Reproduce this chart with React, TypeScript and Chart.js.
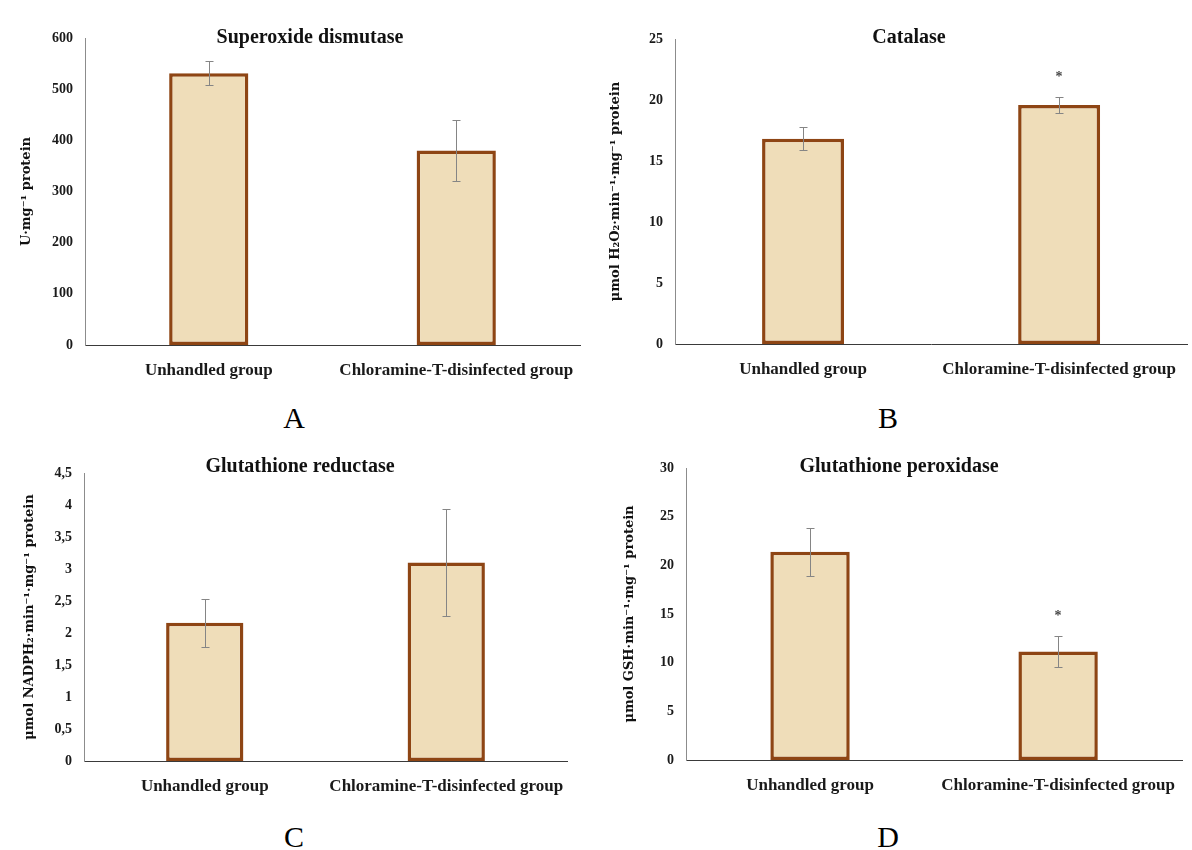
import React, { useEffect, useRef } from "react";
import { Chart, registerables } from "chart.js";

Chart.register(...registerables);

// ---------- data ----------
const categories = ["Unhandled group", "Chloramine-T-disinfected group"];

const sodValues = [531, 380];
const sodErrors = [23.5, 59];
const sodMarks = ["", ""];
const sodTicks = ["0", "100", "200", "300", "400", "500", "600"];

const catValues = [16.83, 19.6];
const catErrors = [0.95, 0.63];
const catMarks = ["", "*"];
const catTicks = ["0", "5", "10", "15", "20", "25"];

const grValues = [2.16, 3.1];
const grErrors = [0.375, 0.83];
const grMarks = ["", ""];
const grTicks = ["0", "0,5", "1", "1,5", "2", "2,5", "3", "3,5", "4", "4,5"];

const gpxValues = [21.4, 11.15];
const gpxErrors = [2.45, 1.55];
const gpxMarks = ["", "*"];
const gpxTicks = ["0", "5", "10", "15", "20", "25", "30"];

// ---------- panel layout ----------
type Panel = {
  title: string;
  yLabel: string;
  values: number[];
  errors: number[];
  marks: string[];
  ticks: string[];
  max: number;
  step: number;
  letter: string;
  rect: { left: number; top: number; width: number; height: number };
  area: { left: number; right: number; top: number; bottom: number };
  titlePos: { x: number; y: number };
  yTitlePad: number;
  letterPos: { x: number; top: number };
};

const panels: Panel[] = [
  {
    title: "Superoxide dismutase",
    yLabel: "U\u00B7mg\u207B\u00B9 protein",
    values: sodValues,
    errors: sodErrors,
    marks: sodMarks,
    ticks: sodTicks,
    max: 600,
    step: 100,
    letter: "A",
    rect: { left: 0, top: 0, width: 596, height: 400 },
    area: { left: 85, right: 580, top: 38, bottom: 345 },
    titlePos: { x: 310, y: 38 },
    yTitlePad: 19,
    letterPos: { x: 294, top: 403 },
  },
  {
    title: "Catalase",
    yLabel: "\u03BCmol H\u2082O\u2082\u00B7min\u207B\u00B9\u00B7mg\u207B\u00B9 protein",
    values: catValues,
    errors: catErrors,
    marks: catMarks,
    ticks: catTicks,
    max: 25,
    step: 5,
    letter: "B",
    rect: { left: 596, top: 0, width: 596, height: 400 },
    area: { left: 79, right: 592, top: 39, bottom: 344 },
    titlePos: { x: 313, y: 38 },
    yTitlePad: 12,
    letterPos: { x: 888, top: 403 },
  },
  {
    title: "Glutathione reductase",
    yLabel: "\u03BCmol NADPH\u2082\u00B7min\u207B\u00B9\u00B7mg\u207B\u00B9 protein",
    values: grValues,
    errors: grErrors,
    marks: grMarks,
    ticks: grTicks,
    max: 4.5,
    step: 0.5,
    letter: "C",
    rect: { left: 0, top: 420, width: 596, height: 400 },
    area: { left: 84, right: 567, top: 53, bottom: 341 },
    titlePos: { x: 300, y: 47 },
    yTitlePad: 22,
    letterPos: { x: 294, top: 822 },
  },
  {
    title: "Glutathione peroxidase",
    yLabel: "\u03BCmol GSH\u00B7min\u207B\u00B9\u00B7mg\u207B\u00B9 protein",
    values: gpxValues,
    errors: gpxErrors,
    marks: gpxMarks,
    ticks: gpxTicks,
    max: 30,
    step: 5,
    letter: "D",
    rect: { left: 596, top: 420, width: 596, height: 400 },
    area: { left: 90, right: 588, top: 48, bottom: 340 },
    titlePos: { x: 303, y: 47 },
    yTitlePad: 26,
    letterPos: { x: 888, top: 822 },
  },
];

const SERIF = '"Liberation Serif", "Times New Roman", serif';
const YSERIF = '"DejaVu Serif", "Liberation Serif", serif';

function ChartPanel({ p }: { p: Panel }) {
  const ref = useRef<HTMLCanvasElement | null>(null);

  useEffect(() => {
    const canvas = ref.current;
    if (!canvas) return;

    const overlay = {
      id: "overlay" + p.letter,
      afterDatasetsDraw(chart: any) {
        const ctx = chart.ctx as CanvasRenderingContext2D;
        const yScale = chart.scales.y;
        const meta = chart.getDatasetMeta(0);
        ctx.save();
        meta.data.forEach((bar: any, i: number) => {
          const x = Math.round(bar.x) + 0.5;
          const v = p.values[i];
          const e = p.errors[i];
          const yTop = Math.round(yScale.getPixelForValue(v + e)) + 0.5;
          const yBot = Math.round(yScale.getPixelForValue(v - e)) + 0.5;
          ctx.strokeStyle = "#858585";
          ctx.lineWidth = 1;
          ctx.beginPath();
          ctx.moveTo(x, yTop);
          ctx.lineTo(x, yBot);
          ctx.moveTo(x - 4, yTop);
          ctx.lineTo(x + 4, yTop);
          ctx.moveTo(x - 4, yBot);
          ctx.lineTo(x + 4, yBot);
          ctx.stroke();
          const m = p.marks[i];
          if (m) {
            ctx.fillStyle = "#444";
            ctx.font = "bold 14px " + SERIF;
            ctx.textAlign = "center";
            ctx.textBaseline = "middle";
            ctx.fillText(m, bar.x, yTop - 20);
          }
        });
        ctx.fillStyle = "#111";
        ctx.font = "bold 20px " + SERIF;
        ctx.textAlign = "center";
        ctx.textBaseline = "middle";
        ctx.fillText(p.title, p.titlePos.x, p.titlePos.y);
        ctx.restore();
      },
    };

    const chart = new Chart(canvas, {
      type: "bar",
      data: {
        labels: categories,
        datasets: [
          {
            data: p.values,
            backgroundColor: "#EFDDB9",
            borderColor: "#8E4514",
            borderWidth: 3.5,
            borderSkipped: false,
            barPercentage: 0.32,
            categoryPercentage: 1,
          },
        ],
      },
      options: {
        animation: false,
        responsive: false,
        events: [],
        layout: {
          padding: {
            left: 0,
            top: p.area.top,
            right: p.rect.width - p.area.right,
            bottom: 0,
          },
        },
        plugins: {
          legend: { display: false },
          title: { display: false },
          tooltip: { enabled: false },
        },
        scales: {
          x: {
            grid: { display: false, drawTicks: false },
            border: { display: true, color: "#3a3a3a", width: 1 },
            ticks: {
              color: "#1a1a1a",
              font: { family: SERIF, size: 17, weight: "bold" },
              padding: 15,
              maxRotation: 0,
              minRotation: 0,
              autoSkip: false,
            },
            afterFit: (s: any) => {
              s.height = p.rect.height - p.area.bottom;
            },
          },
          y: {
            min: 0,
            max: p.max,
            grid: { display: false, drawTicks: false },
            border: { display: true, color: "#8c8c8c", width: 1 },
            ticks: {
              stepSize: p.step,
              color: "#1a1a1a",
              font: { family: SERIF, size: 14, weight: "bold" },
              padding: 12,
              callback: (_v: any, i: number) => p.ticks[i],
            },
            title: {
              display: true,
              text: p.yLabel,
              color: "#111",
              font: { family: YSERIF, size: 13, weight: "bold" },
              padding: { top: p.yTitlePad, bottom: 0 },
            },
            afterFit: (s: any) => {
              s.width = p.area.left;
            },
          },
        },
      },
      plugins: [overlay],
    });

    return () => chart.destroy();
  }, [p]);

  return (
    <>
      <canvas
        ref={ref}
        width={p.rect.width}
        height={p.rect.height}
        style={{
          position: "absolute",
          left: p.rect.left,
          top: p.rect.top,
          width: p.rect.width,
          height: p.rect.height,
        }}
      />
      <div
        style={{
          position: "absolute",
          left: p.letterPos.x - 30,
          top: p.letterPos.top,
          width: 60,
          textAlign: "center",
          fontFamily: SERIF,
          fontSize: 30,
          lineHeight: "30px",
          color: "#000",
        }}
      >
        {p.letter}
      </div>
    </>
  );
}

export default function App() {
  return (
    <div
      style={{
        position: "absolute",
        left: 0,
        top: 0,
        width: 1192,
        height: 850,
        background: "#fff",
        overflow: "hidden",
      }}
    >
      {panels.map((p) => (
        <ChartPanel key={p.letter} p={p} />
      ))}
    </div>
  );
}
